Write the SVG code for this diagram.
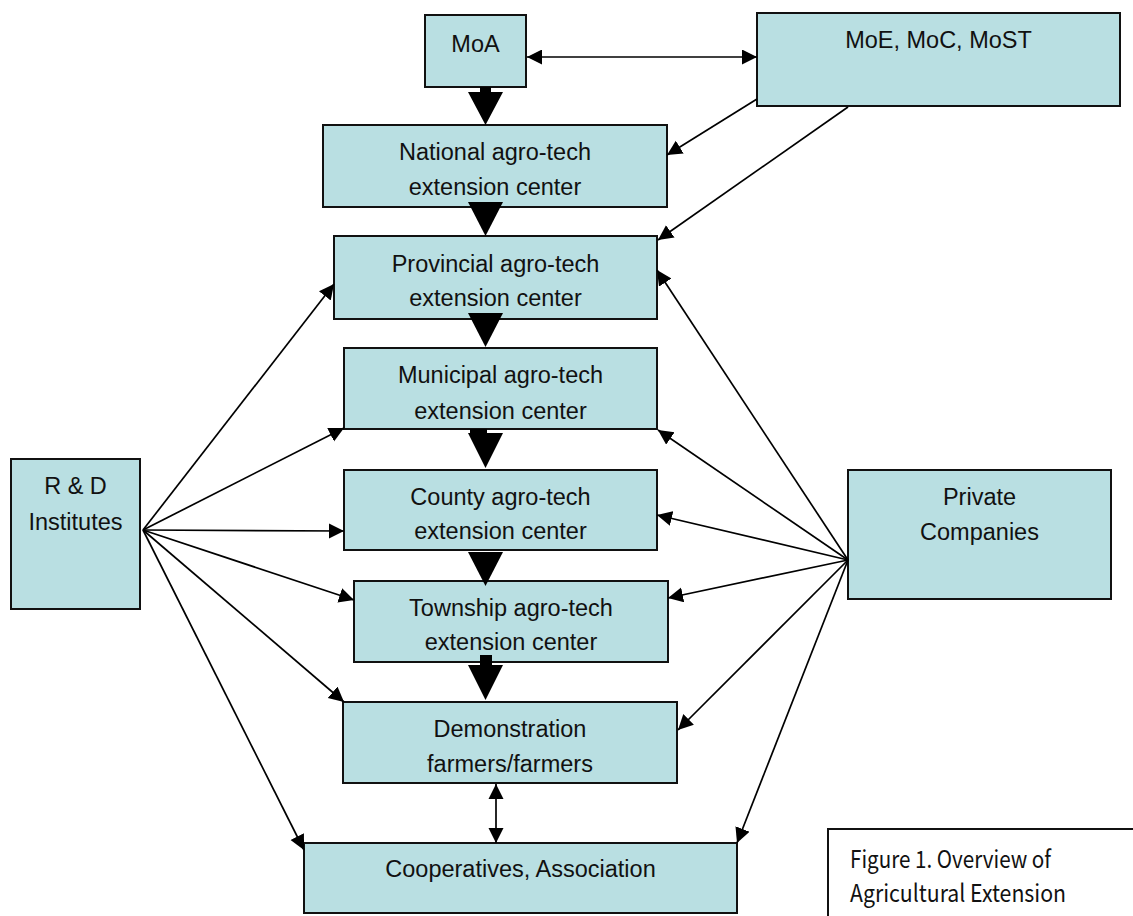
<svg xmlns="http://www.w3.org/2000/svg" width="1133" height="916" viewBox="0 0 1133 916">
<style>
.box{fill:#b9dfe2;stroke:#111;stroke-width:2}
.t{font-family:"Liberation Sans",Arial,sans-serif;font-size:23.5px;fill:#111;text-anchor:middle}
.ln{stroke:#000;stroke-width:1.7;fill:none}
.one{marker-end:url(#ah)}
.two{marker-start:url(#ahs);marker-end:url(#ah)}
.big{fill:#000}
.cap{font-family:"Noto Sans CJK KR","Noto Sans",sans-serif;font-size:24px;fill:#111}
</style>
<defs>
<marker id="ah" markerUnits="userSpaceOnUse" markerWidth="16" markerHeight="16" refX="15" refY="7.5" orient="auto">
<path d="M0,0 L15,7.5 L0,15 Z" fill="#000"/>
</marker>
<marker id="ahs" markerUnits="userSpaceOnUse" markerWidth="16" markerHeight="16" refX="0" refY="7.5" orient="auto">
<path d="M15,0 L0,7.5 L15,15 Z" fill="#000"/>
</marker>
</defs>
<rect width="1133" height="916" fill="#fff"/>
<g id="moa"><rect class="box" x="425" y="15" width="101" height="72"/><text class="t" x="475.5" y="52">MoA</text></g>
<g id="moe"><rect class="box" x="757" y="13" width="363" height="93"/><text class="t" x="938.5" y="48">MoE, MoC, MoST</text></g>
<g id="national"><rect class="box" x="323" y="125" width="344" height="82"/><text class="t" x="495" y="160">National agro-tech</text><text class="t" x="495" y="195">extension center</text></g>
<g id="provincial"><rect class="box" x="334" y="236" width="323" height="83"/><text class="t" x="495.5" y="272">Provincial agro-tech</text><text class="t" x="495.5" y="306">extension center</text></g>
<g id="municipal"><rect class="box" x="344" y="348" width="313" height="81"/><text class="t" x="500.5" y="383">Municipal agro-tech</text><text class="t" x="500.5" y="419">extension center</text></g>
<g id="county"><rect class="box" x="344" y="470" width="313" height="80"/><text class="t" x="500.5" y="505">County agro-tech</text><text class="t" x="500.5" y="539">extension center</text></g>
<g id="township"><rect class="box" x="354" y="581" width="314" height="81"/><text class="t" x="511" y="616">Township agro-tech</text><text class="t" x="511" y="650">extension center</text></g>
<g id="demo"><rect class="box" x="343" y="702" width="334" height="81"/><text class="t" x="510" y="737">Demonstration</text><text class="t" x="510" y="772">farmers/farmers</text></g>
<g id="coop"><rect class="box" x="304" y="843" width="433" height="70"/><text class="t" x="520.5" y="877">Cooperatives, Association</text></g>
<g id="rnd"><rect class="box" x="11" y="459" width="129" height="150"/><text class="t" x="75.5" y="494">R &amp; D</text><text class="t" x="75.5" y="530">Institutes</text></g>
<g id="private"><rect class="box" x="848" y="470" width="263" height="129"/><text class="t" x="979.5" y="505">Private</text><text class="t" x="979.5" y="540">Companies</text></g>
<g id="caption"><rect x="828" y="829" width="320" height="120" fill="#fff" stroke="#111" stroke-width="2"/><text class="cap" x="850" y="868" textLength="201" lengthAdjust="spacingAndGlyphs">Figure 1. Overview of</text><text class="cap" x="850" y="902" textLength="216" lengthAdjust="spacingAndGlyphs">Agricultural Extension</text></g>
<g id="connectors">
<line class="ln two" x1="527" y1="57" x2="757" y2="57"/>
<line class="ln one" x1="757" y1="99" x2="667" y2="155"/>
<line class="ln one" x1="848" y1="107" x2="658" y2="240"/>
<line class="ln one" x1="143" y1="530" x2="334" y2="284"/>
<line class="ln one" x1="143" y1="530" x2="344" y2="428"/>
<line class="ln one" x1="143" y1="530" x2="344" y2="531"/>
<line class="ln one" x1="143" y1="530" x2="354" y2="600"/>
<line class="ln one" x1="143" y1="530" x2="344" y2="702"/>
<line class="ln one" x1="143" y1="530" x2="304" y2="850"/>
<line class="ln one" x1="848" y1="560" x2="657" y2="270"/>
<line class="ln one" x1="848" y1="560" x2="658" y2="430"/>
<line class="ln one" x1="848" y1="560" x2="657" y2="515"/>
<line class="ln one" x1="848" y1="560" x2="668" y2="598"/>
<line class="ln one" x1="848" y1="560" x2="678" y2="730"/>
<line class="ln one" x1="848" y1="560" x2="737" y2="843"/>
<line class="ln two" x1="496" y1="784" x2="496" y2="843"/>
<polygon class="big" points="480,87 491,87 491,92 503,92 485.5,125 468,92 480,92"/>
<polygon class="big" points="468,202 503,202 485.5,236"/>
<polygon class="big" points="468,313 503,313 485.5,347"/>
<polygon class="big" points="470,429 487,429 487,433 503,433 485.5,468 468,433 470,433"/>
<polygon class="big" points="468,552 503,552 485.5,586"/>
<polygon class="big" points="480,655 492,655 492,665 503,665 485.5,700 468,665 480,665"/>
</g>
</svg>
